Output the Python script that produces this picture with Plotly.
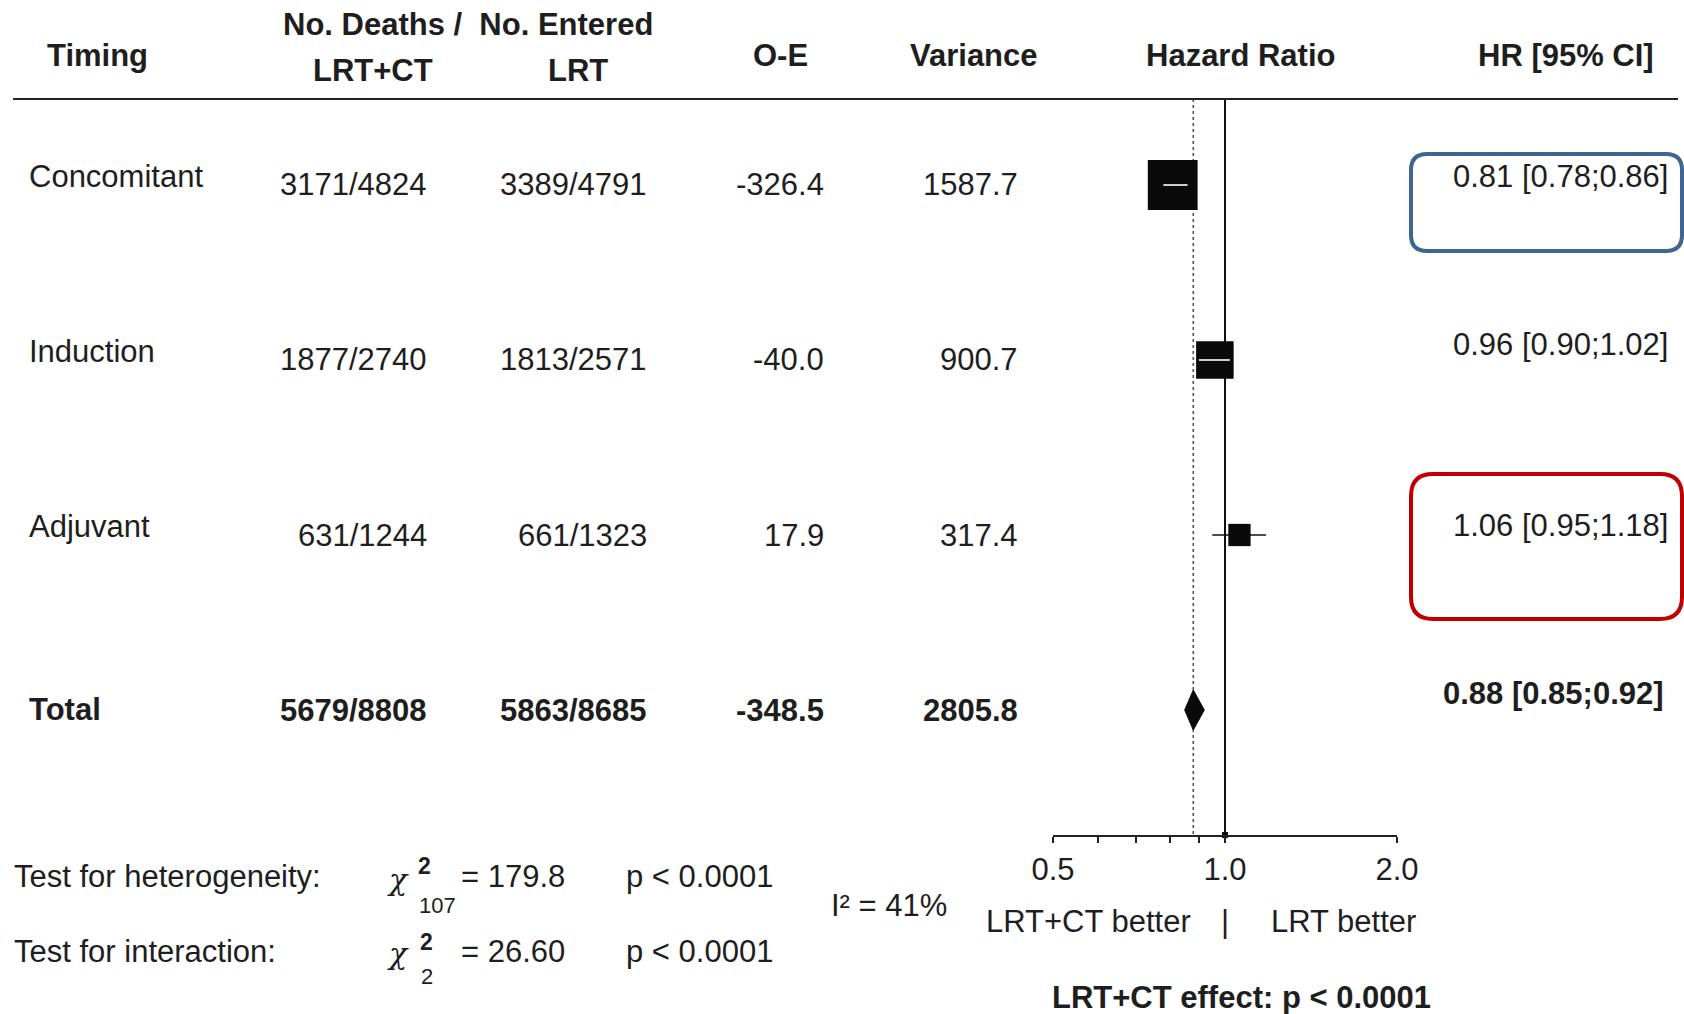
import plotly.graph_objects as go

# ---------------- data ----------------
timing = ["Concomitant", "Induction", "Adjuvant", "Total"]
lrtct_counts = ["3171/4824", "1877/2740", "631/1244", "5679/8808"]
lrt_counts = ["3389/4791", "1813/2571", "661/1323", "5863/8685"]
o_minus_e = [-326.4, -40.0, 17.9, -348.5]
variance = [1587.7, 900.7, 317.4, 2805.8]
hr = [0.81, 0.96, 1.06, 0.88]
ci_low = [0.78, 0.90, 0.95, 0.85]
ci_high = [0.86, 1.02, 1.18, 0.92]
overall_hr = 0.88
tick_vals = [0.5, 0.6, 0.7, 0.8, 0.9, 1.0, 2.0]
tick_text = ["0.5", "", "", "", "", "1.0", "2.0"]

# ---------------- layout helpers ----------------
W, H = 1684, 1014
FONT = "Liberation Sans, Arial, sans-serif"
TXT = "#1e1e1e"
FS = 31


def px(x):
    return x / W


def py(y):
    return 1 - y / H


AX_L, AX_R = 1053, 1397          # pixel positions of 0.5 and 2.0
TOP, BOT = 99, 835               # plot area top (rule) and axis line
ROW0, STEP = 185, 175            # row pixel centre and spacing
y_top = (TOP - ROW0) / STEP
y_bot = (BOT - ROW0) / STEP
px_per_log2 = (AX_R - AX_L) / 2.0
BOX_K = 1.25                     # marker size per sqrt(variance)

fig = go.Figure()

# reference lines (no effect & overall effect)
fig.add_trace(go.Scatter(x=[overall_hr, overall_hr], y=[y_top, y_bot], mode="lines",
                         line=dict(color="#555555", width=1.6, dash="dot"),
                         hoverinfo="skip", showlegend=False))
fig.add_trace(go.Scatter(x=[1.0, 1.0], y=[y_top, y_bot], mode="lines",
                         line=dict(color="#111111", width=2),
                         hoverinfo="skip", showlegend=False))

n_trials = 3
# CI lines (black)
cx, cy = [], []
for i in range(n_trials):
    cx += [ci_low[i], ci_high[i], None]
    cy += [i, i, None]
fig.add_trace(go.Scatter(x=cx, y=cy, mode="lines", line=dict(color="#111111", width=1.6),
                         hoverinfo="skip", showlegend=False))

# boxes
sizes = [BOX_K * v ** 0.5 for v in variance[:n_trials]]
fig.add_trace(go.Scatter(x=hr[:n_trials], y=list(range(n_trials)), mode="markers",
                         marker=dict(symbol="square", size=sizes, color="#0a0a0a",
                                     opacity=1, line=dict(width=0)),
                         hoverinfo="skip", showlegend=False))

# white CI line where the CI fits inside the box
wx, wy = [], []
for i in range(n_trials):
    half = sizes[i] / 2 / px_per_log2
    lo_b, hi_b = hr[i] * 2 ** (-half), hr[i] * 2 ** half
    if ci_low[i] >= lo_b and ci_high[i] <= hi_b:
        wx += [ci_low[i], ci_high[i], None]
        wy += [i, i, None]
fig.add_trace(go.Scatter(x=wx, y=wy, mode="lines", line=dict(color="white", width=1.6),
                         hoverinfo="skip", showlegend=False))

# overall diamond
t = 3
dh = 20 / STEP
fig.add_trace(go.Scatter(x=[ci_low[t], hr[t], ci_high[t], hr[t], ci_low[t]],
                         y=[t, t - dh, t, t + dh, t], mode="lines", fill="toself",
                         fillcolor="#0a0a0a", line=dict(color="#0a0a0a", width=1),
                         hoverinfo="skip", showlegend=False))

# small mark at 1.0 on the axis
fig.add_trace(go.Scatter(x=[1.0], y=[y_bot], mode="markers", cliponaxis=False,
                         marker=dict(symbol="square", size=6, color="#111111", opacity=1),
                         hoverinfo="skip", showlegend=False))

ann = []


def text(x, y, s, anchor="center", size=FS, bold=False, yref="paper", yshift=0,
         color=TXT, family=FONT):
    if bold:
        s = "<b>" + s + "</b>"
    ann.append(dict(x=x, y=y, xref="paper", yref=yref, text=s, showarrow=False,
                    xanchor=anchor, yanchor="middle", yshift=yshift,
                    font=dict(family=family, size=size, color=color)))


# header
text(px(45), py(56), "Timing", "left", bold=True)
text(px(468), py(24), "No. Deaths /&nbsp; No. Entered", bold=True)
text(px(373), py(70), "LRT+CT", bold=True)
text(px(578), py(70), "LRT", bold=True)
text(px(780), py(56), "O-E", bold=True)
text(px(974), py(56), "Variance", bold=True)
text(px(1240), py(56), "Hazard Ratio", bold=True)
text(px(1656), py(56), "HR [95% CI]", "right", bold=True)

# rows
label_shift = [8, 8, 9, 1]
hr_shift = [8, 15, 10, 17]
hr_right = [1670, 1670, 1670, 1666]
for i in range(len(timing)):
    b = timing[i] == "Total"
    text(px(27), i, timing[i], "left", bold=b, yref="y", yshift=label_shift[i])
    text(px(429), i, lrtct_counts[i], "right", bold=b, yref="y")
    text(px(649), i, lrt_counts[i], "right", bold=b, yref="y")
    text(px(826), i, f"{o_minus_e[i]:.1f}", "right", bold=b, yref="y")
    text(px(1020), i, f"{variance[i]:.1f}", "right", bold=b, yref="y")
    text(px(hr_right[i]), i, f"{hr[i]:.2f} [{ci_low[i]:.2f};{ci_high[i]:.2f}]", "right",
         bold=b, yref="y", yshift=hr_shift[i])

# footer statistics
SERIF = "DejaVu Serif, serif"
text(px(12), py(876), "Test for heterogeneity:", "left")
text(px(398), py(879), "<i>χ</i>", size=30, family=SERIF)
text(px(424), py(866), "2", size=23, bold=True)
text(px(438), py(905), "107", size=22)
text(px(459), py(876), "= 179.8", "left")
text(px(624), py(876), "p < 0.0001", "left")
text(px(829), py(905), "I² = 41%", "left")

text(px(12), py(951), "Test for interaction:", "left")
text(px(398), py(953), "<i>χ</i>", size=30, family=SERIF)
text(px(426), py(942), "2", size=23, bold=True)
text(px(427), py(976), "2", size=22)
text(px(459), py(951), "= 26.60", "left")
text(px(624), py(951), "p < 0.0001", "left")

text(px(1193), py(921), "LRT+CT better", "right")
text(px(1225), py(921), "|")
text(px(1269), py(921), "LRT better", "left")
text(px(1241), py(997), "LRT+CT effect: p < 0.0001", bold=True)

# shapes: header rule and highlight boxes


def rounded(x0, y0, x1, y1, r):
    X = lambda v: f"{px(v):.5f}"
    Y = lambda v: f"{py(v):.5f}"
    return (f"M {X(x0 + r)},{Y(y0)} L {X(x1 - r)},{Y(y0)} Q {X(x1)},{Y(y0)} {X(x1)},{Y(y0 + r)} "
            f"L {X(x1)},{Y(y1 - r)} Q {X(x1)},{Y(y1)} {X(x1 - r)},{Y(y1)} "
            f"L {X(x0 + r)},{Y(y1)} Q {X(x0)},{Y(y1)} {X(x0)},{Y(y1 - r)} "
            f"L {X(x0)},{Y(y0 + r)} Q {X(x0)},{Y(y0)} {X(x0 + r)},{Y(y0)} Z")


shapes = [
    dict(type="line", xref="paper", yref="paper", x0=px(13), x1=px(1678), y0=py(TOP), y1=py(TOP),
         line=dict(color="#222222", width=2)),
    dict(type="path", xref="paper", yref="paper", path=rounded(1411, 154, 1682, 251, 16),
         line=dict(color="#3F6590", width=4)),
    dict(type="path", xref="paper", yref="paper", path=rounded(1411, 474, 1682, 619, 22),
         line=dict(color="#C00000", width=4)),
]

fig.update_layout(
    template="none",
    width=W, height=H, autosize=False,
    margin=dict(l=0, r=0, t=0, b=0, pad=0, autoexpand=False),
    paper_bgcolor="white", plot_bgcolor="white",
    showlegend=False,
    annotations=ann, shapes=shapes,
    xaxis=dict(type="log", domain=[px(AX_L), px(AX_R)], automargin=False,
               range=[-0.30103, 0.30103], tickvals=tick_vals, ticktext=tick_text,
               ticks="outside", ticklen=6, tickwidth=1.5, tickcolor="#222222",
               showline=True, linecolor="#222222", linewidth=1.5,
               showgrid=False, zeroline=False, anchor="y",
               tickfont=dict(family=FONT, size=FS, color=TXT)),
    yaxis=dict(domain=[py(BOT), py(TOP)], range=[y_bot, y_top], visible=False,
               automargin=False, showgrid=False, zeroline=False),
)

fig.write_html("out.html", config={"displayModeBar": False})
